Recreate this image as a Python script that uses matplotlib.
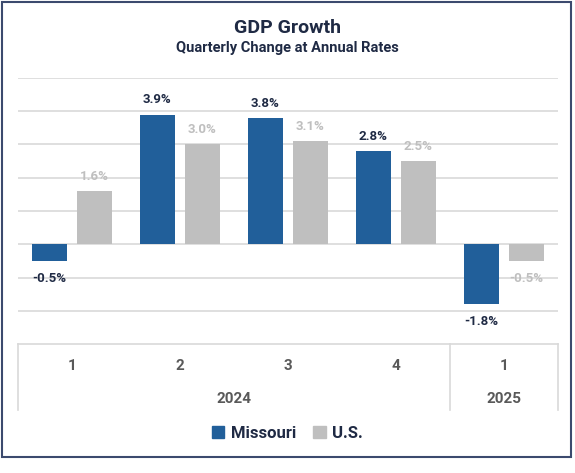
import numpy as np
import matplotlib.pyplot as plt
from matplotlib.patches import Rectangle, Patch
from matplotlib.transforms import blended_transform_factory

quarters = ["1", "2", "3", "4", "1"]
years = ["2024", "2025"]
year_span = [(0, 3), (4, 4)]
missouri = [-0.5, 3.9, 3.8, 2.8, -1.8]
us = [1.6, 3.0, 3.1, 2.5, -0.5]

blue = "#215F9A"
gray = "#BFBFBF"
navy = "#1F2A44"
grid_c = "#D9D9D9"
cat_c = "#595959"

plt.rcParams['font.family'] = ['Roboto', 'DejaVu Sans']

fig = plt.figure(figsize=(5.75, 4.73), dpi=100)
ax = fig.add_axes([17.6 / 575, 1 - 344 / 473, 540 / 575, 266 / 473])

x = np.arange(len(quarters))
w = 0.325
off = 0.208
b1 = ax.bar(x - off, missouri, w, color=blue, zorder=3)
b2 = ax.bar(x + off, us, w, color=gray, zorder=3)

for bars, vals, col in [(b1, missouri, navy), (b2, us, gray)]:
    for b, v in zip(bars, vals):
        cx = b.get_x() + b.get_width() / 2
        if v >= 0:
            ax.annotate(f"{v:.1f}%", (cx, v), xytext=(0, 6), textcoords="offset points",
                        ha="center", va="bottom", fontsize=9.5, fontweight="bold", color=col)
        else:
            ax.annotate(f"{v:.1f}%", (cx, v), xytext=(0, -8), textcoords="offset points",
                        ha="center", va="top", fontsize=9.5, fontweight="bold", color=col)

ax.set_xlim(-0.5, len(quarters) - 0.5)
ax.set_ylim(-3, 5)
ax.set_yticks(np.arange(-2, 6, 1))
ax.yaxis.grid(True, color=grid_c, linewidth=1.2, zorder=0)
ax.set_xticks([])
ax.tick_params(left=False, labelleft=False)
for s in ax.spines.values():
    s.set_visible(False)

# category table below the plot
tb = -0.248
ax.plot([0, 1], [0, 0], transform=ax.transAxes, color=grid_c, lw=1.2, clip_on=False)
trans = blended_transform_factory(ax.transData, ax.transAxes)
for xv in [-0.5, 3.5, 4.5]:
    ax.plot([xv, xv], [0, tb], transform=trans, color=grid_c, lw=1.2, clip_on=False)
for xi, q in zip(x, quarters):
    ax.text(xi, -0.083, q, transform=trans, ha="center", va="center",
            fontsize=11, fontweight="bold", color=cat_c)
for yr, (a, b) in zip(years, year_span):
    ax.text((a + b) / 2, -0.207, yr, transform=trans, ha="center", va="center",
            fontsize=11, fontweight="bold", color=cat_c)

fig.text(0.5, 1 - 28 / 473, "GDP Growth", ha="center", va="center",
         fontsize=14, fontweight="bold", color=navy)
fig.text(0.5, 1 - 48 / 473, "Quarterly Change at Annual Rates", ha="center", va="center",
         fontsize=10.5, fontweight="bold", color=navy)

handles = [Patch(color=blue, label="Missouri"), Patch(color=gray, label="U.S.")]
leg = fig.legend(handles=handles, loc="center", bbox_to_anchor=(0.5, 1 - 433 / 473), ncol=2,
                 frameon=False, handlelength=0.75, handleheight=0.75, handletextpad=0.4,
                 columnspacing=1.0, prop={"size": 12, "weight": "bold"})
for t in leg.get_texts():
    t.set_color(navy)

fig.patches.append(Rectangle((1.5 / 575, 1 - 457 / 473), 569.5 / 575, 455 / 473,
                             transform=fig.transFigure, fill=False,
                             edgecolor="#3C4A6E", linewidth=1.5))

fig.savefig("out.png", dpi=100)
